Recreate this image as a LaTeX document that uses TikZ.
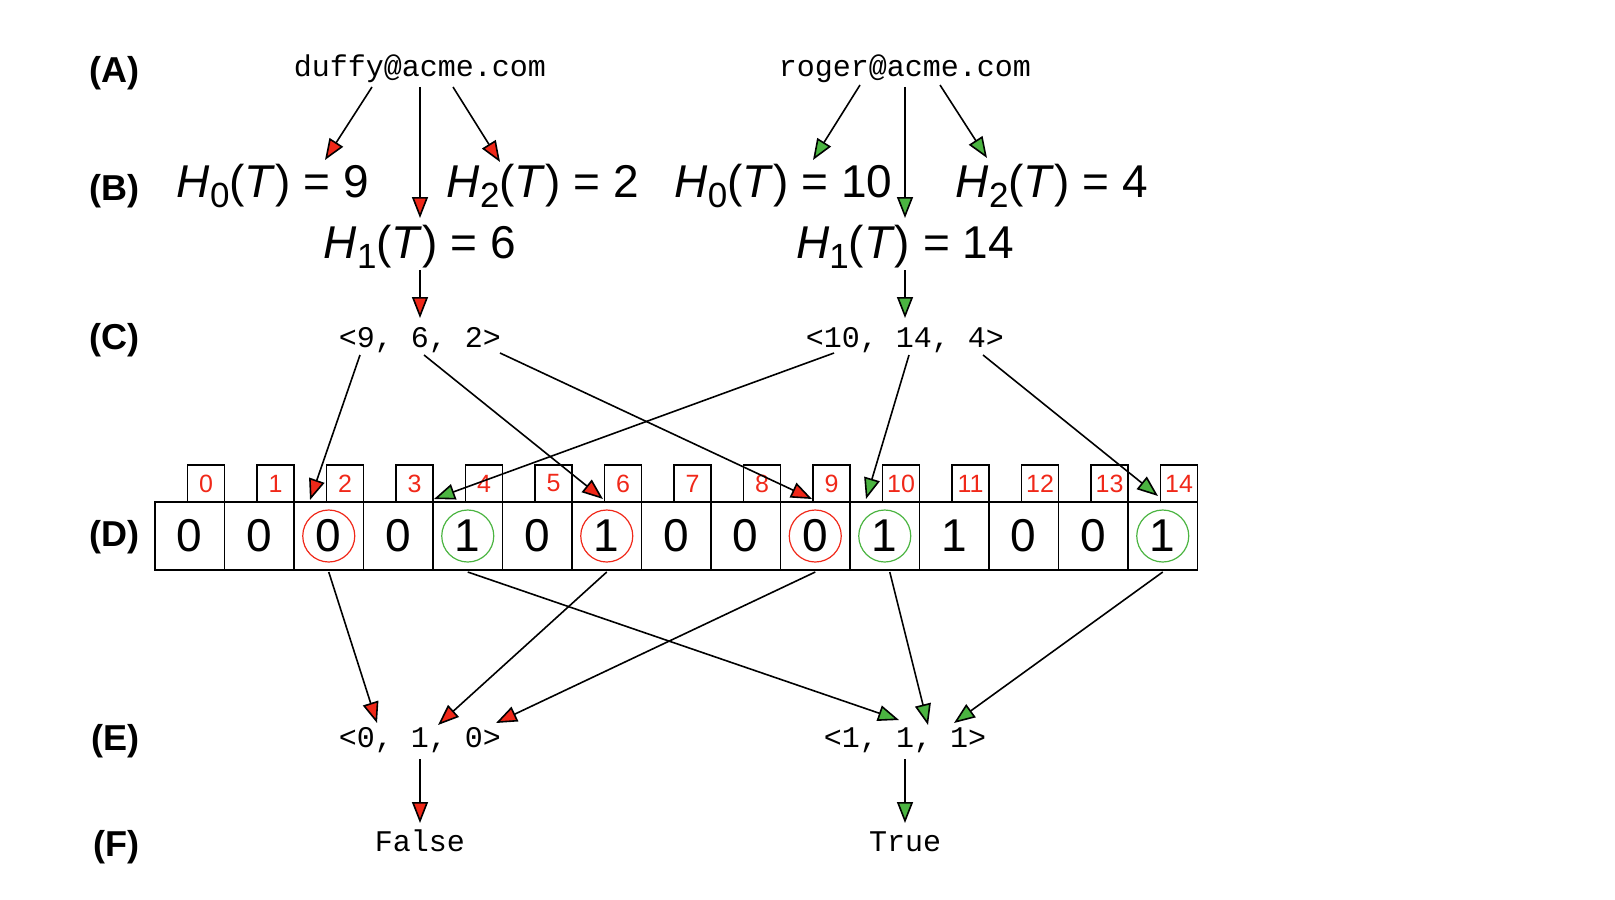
\documentclass[tikz,border=0pt]{standalone}
\usepackage{fontspec}
\setmainfont{Liberation Sans}
\setmonofont{Liberation Mono}
\usepackage{tikz}
\usetikzlibrary{arrows.meta,calc}
\definecolor{rojo}{RGB}{240,40,25}
\definecolor{verde}{RGB}{75,180,65}
\tikzstyle{txt}   =[inner sep=0pt, outer sep=0pt, anchor=base]
\tikzstyle{mail}  =[txt, font=\fontsize{15}{18}\selectfont\ttfamily]
\tikzstyle{tupla} =[txt, font=\fontsize{15}{18}\selectfont\ttfamily]
\tikzstyle{hash}  =[txt, font=\fontsize{23}{26}\selectfont]
\tikzstyle{fila}  =[inner sep=0pt, anchor=base east,
                    font=\fontsize{18}{20}\selectfont\bfseries]
\tikzstyle{celda} =[draw, line width=0.8pt, minimum width=34.75pt,
                    minimum height=34pt, inner sep=0pt, outer sep=0pt,
                    anchor=north west, font=\fontsize{23}{26}\selectfont]
\tikzstyle{indice}=[draw, line width=0.8pt, minimum width=18.5pt,
                    minimum height=18.5pt, inner sep=0pt, outer sep=0pt,
                    anchor=south east, text=rojo,
                    font=\fontsize{12.5}{14}\selectfont]
\tikzstyle{anillo}=[line width=0.6pt]
\tikzstyle{redge} =[-{Triangle[length=10.5pt,width=8pt,fill=rojo]},
                    line width=0.8pt]
\tikzstyle{gedge} =[-{Triangle[length=10.5pt,width=8pt,fill=verde]},
                    line width=0.8pt]
\newcommand{\hsub}[2]{\textit{H}\raisebox{-5pt}{\fontsize{17.5}{18}\selectfont #1}(\textit{T}) = #2}

\begin{document}
\begin{tikzpicture}[x=0.5pt,y=-0.5pt]
    \useasboundingbox (0,0) rectangle (1615,899);

    % filas
    \foreach \l/\y in {A/83,B/200,C/349,D/546,E/750,F/856}
        \node[fila] (fila\l) at (140,\y) {(\l)};

    \node[mail] (duffy) at (420,77) {duffy@acme.com};
    \node[mail] (roger) at (905,77) {roger@acme.com};

    \node[hash] (ha0) at (273,197) {\hsub{0}{9}};
    \node[hash] (ha2) at (543,197) {\hsub{2}{2}};
    \node[hash] (ha1) at (420,258) {\hsub{1}{6}};
    \node[hash] (hb0) at (783.5,197) {\hsub{0}{10}};
    \node[hash] (hb2) at (1052,197) {\hsub{2}{4}};
    \node[hash] (hb1) at (905,258) {\hsub{1}{14}};

    \node[tupla] (ta) at (420,347) {<9, 6, 2>};
    \node[tupla] (tb) at (905,347) {<10, 14, 4>};
    \node[tupla] (ea) at (420,747) {<0, 1, 0>};
    \node[tupla] (eb) at (905,747) {<1, 1, 1>};

    \node[mail] (fa) at (420,851) {False};
    \node[mail] (fb) at (905,851) {True};

    % arreglo de bits
    \foreach \v [count=\i from 0] in {0,0,0,0,1,0,1,0,0,0,1,1,0,0,1} {
        \node[celda] (c\i) at ({155+69.5*\i},502) {\v};
        \node[indice] (i\i) at (c\i.north east) {\i};
    }
    \foreach \i in {2,6,9}
        \draw[anillo,rojo] (c\i.center) circle (13pt);
    \foreach \i in {4,10,14}
        \draw[anillo,verde] (c\i.center) circle (13pt);

    % hashes
    \draw[redge] ($(duffy.base)+(-48,10)$) -- ($(ha0.base)+(52,-37)$);
    \draw[redge] ($(duffy.base)+(0,10)$) -- ($(ha1.base)+(0,-40)$);
    \draw[redge] ($(duffy.base)+(33,10)$) -- ($(ha2.base)+(-43,-35)$);
    \draw[gedge] ($(roger.base)+(-45,8)$) -- ($(hb0.base)+(29.5,-37)$);
    \draw[gedge] ($(roger.base)+(0,10)$) -- ($(hb1.base)+(0,-40)$);
    \draw[gedge] ($(roger.base)+(35,8)$) -- ($(hb2.base)+(-65,-39)$);

    \draw[redge] ($(ha1.base)+(0,12)$) -- ($(ta.base)+(0,-29)$);
    \draw[gedge] ($(hb1.base)+(0,12)$) -- ($(tb.base)+(0,-29)$);

    \foreach \dx/\dy/\c/\ex/\ey in {-60/8/2/16/-2, 4/8/6/31/-3, 80/6/9/31.5/-3}
        \draw[redge] ($(ta.base)+(\dx,\dy)$) -- ($(c\c.north west)+(\ex,\ey)$);
    \foreach \dx/\dy/\c/\ex/\ey in {-71/6/4/1/-3, 4/8/10/16/-3, 78/8/14/30/-6}
        \draw[gedge] ($(tb.base)+(\dx,\dy)$) -- ($(c\c.north west)+(\ex,\ey)$);

    \foreach \c/\dx/\ex/\ey in {2/0/-43/-24, 6/0/18/-22, 9/0/76/-24}
        \draw[redge] ($(c\c.south)+(\dx,2)$) -- ($(ea.base)+(\ex,\ey)$);
    \foreach \c/\dx/\ex/\ey in {4/0/-6/-27, 10/5/23/-22, 14/0/49/-24}
        \draw[gedge] ($(c\c.south)+(\dx,2)$) -- ($(eb.base)+(\ex,\ey)$);

    \draw[redge] ($(ea.base)+(0,12)$) -- ($(fa.base)+(0,-28)$);
    \draw[gedge] ($(eb.base)+(0,12)$) -- ($(fb.base)+(0,-28)$);
\end{tikzpicture}
\end{document}
